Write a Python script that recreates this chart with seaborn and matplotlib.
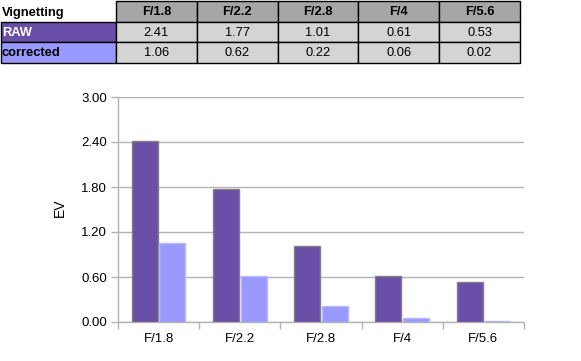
import matplotlib
matplotlib.use("Agg")
import matplotlib.pyplot as plt
import seaborn as sns
import pandas as pd
import numpy as np
from matplotlib.patches import Rectangle
from matplotlib.ticker import FixedLocator, FormatStrFormatter

apertures = ["F/1.8", "F/2.2", "F/2.8", "F/4", "F/5.6"]
raw_ev = [2.41, 1.77, 1.01, 0.61, 0.53]
corrected_ev = [1.06, 0.62, 0.22, 0.06, 0.02]
series_names = ["RAW", "corrected"]
table_title = "Vignetting"
y_label = "EV"
y_ticks = [0.0, 0.6, 1.2, 1.8, 2.4, 3.0]

raw_color = "#6A4FA8"
corr_color = "#9999FF"

sns.set_theme(style="white")
plt.rcParams["font.family"] = ["Liberation Sans", "DejaVu Sans"]

W, H = 581, 361
fig = plt.figure(figsize=(W / 100, H / 100), dpi=100)

# ---------- table ----------
tax = fig.add_axes([0, 0, 1, 1])
tax.set_xlim(0, W)
tax.set_ylim(H, 0)
tax.axis("off")

col_w = 80.8
col_x = [116 + col_w * i for i in range(len(apertures) + 1)]
row_y = [0.5, 22, 42, 63]
label_x0 = 0.5
fs = 9.3

# header cells
for i, ap in enumerate(apertures):
    x0, x1 = col_x[i], col_x[i + 1]
    tax.add_patch(Rectangle((x0, row_y[0]), x1 - x0, row_y[1] - row_y[0],
                            facecolor="#A6A6A6", edgecolor="black", lw=1))
    tax.text((x0 + x1) / 2, (row_y[0] + row_y[1]) / 2 + 1, ap, ha="center", va="center",
             fontsize=fs, fontweight="bold", color="black")
tax.text(2, (row_y[0] + row_y[1]) / 2 + 1.5, table_title, ha="left", va="center",
         fontsize=fs, fontweight="bold", color="black")

rows = [raw_ev, corrected_ev]
fills = [raw_color, corr_color]
label_colors = ["white", "black"]
for r, (name, vals) in enumerate(zip(series_names, rows)):
    y0, y1 = row_y[r + 1], row_y[r + 2]
    tax.add_patch(Rectangle((label_x0, y0), col_x[0] - label_x0, y1 - y0,
                            facecolor=fills[r], edgecolor="black", lw=1))
    tax.text(2, (y0 + y1) / 2 + 1, name, ha="left", va="center",
             fontsize=fs, fontweight="bold", color=label_colors[r])
    for i, v in enumerate(vals):
        x0, x1 = col_x[i], col_x[i + 1]
        tax.add_patch(Rectangle((x0, y0), x1 - x0, y1 - y0,
                                facecolor="#D4D4D4", edgecolor="black", lw=1))
        tax.text((x0 + x1) / 2, (y0 + y1) / 2 + 1, f"{v:.2f}", ha="center", va="center",
                 fontsize=fs, color="black")

# ---------- chart ----------
left, right, top, bottom = 118, 524, 97, 322
ax = fig.add_axes([left / W, 1 - bottom / H, (right - left) / W, (bottom - top) / H])

df = pd.DataFrame({
    "aperture": apertures * 2,
    "EV": raw_ev + corrected_ev,
    "series": [series_names[0]] * len(apertures) + [series_names[1]] * len(apertures),
})
sns.barplot(data=df, x="aperture", y="EV", hue="series", order=apertures,
            hue_order=series_names, palette=[raw_color, corr_color], saturation=1,
            width=0.68, gap=0.06, ax=ax, legend=False, errorbar=None, zorder=3)

for p, hname in zip(ax.patches, [series_names[0]] * 5 + [series_names[1]] * 5):
    if hname == series_names[0]:
        p.set_edgecolor("#808080")
    else:
        p.set_edgecolor("#B8B8FF")
    p.set_linewidth(1)

ax.set_ylim(0, 3.0)
ax.set_xlim(-0.5, len(apertures) - 0.5)
ax.yaxis.set_major_locator(FixedLocator(y_ticks))
ax.yaxis.set_major_formatter(FormatStrFormatter("%.2f"))
ax.yaxis.grid(True, color="#B3B3B3", lw=1)
ax.set_axisbelow(True)

for s in ["top", "right"]:
    ax.spines[s].set_visible(False)
ax.spines["left"].set_color("#B3B3B3")
ax.spines["bottom"].set_color("#B3B3B3")
ax.spines["left"].set_linewidth(1)
ax.spines["bottom"].set_linewidth(1)

ax.tick_params(axis="y", which="major", left=True, length=5, width=1, color="#B3B3B3",
               labelsize=9.5, labelcolor="black", pad=3)
ax.set_xticks(np.arange(len(apertures)))
ax.set_xticklabels(apertures)
ax.set_xticks(np.arange(len(apertures) + 1) - 0.5, minor=True)
ax.tick_params(axis="x", which="major", length=0, labelsize=9.5, labelcolor="black", pad=8)
ax.tick_params(axis="x", which="minor", bottom=True, length=5, width=1, color="#B3B3B3")

ax.set_xlabel("")
ax.set_ylabel("")
fig.text(60 / W, 1 - 208 / H, y_label, rotation=90, ha="center", va="center",
         fontsize=10, color="black")

fig.savefig("out.png", dpi=100)
